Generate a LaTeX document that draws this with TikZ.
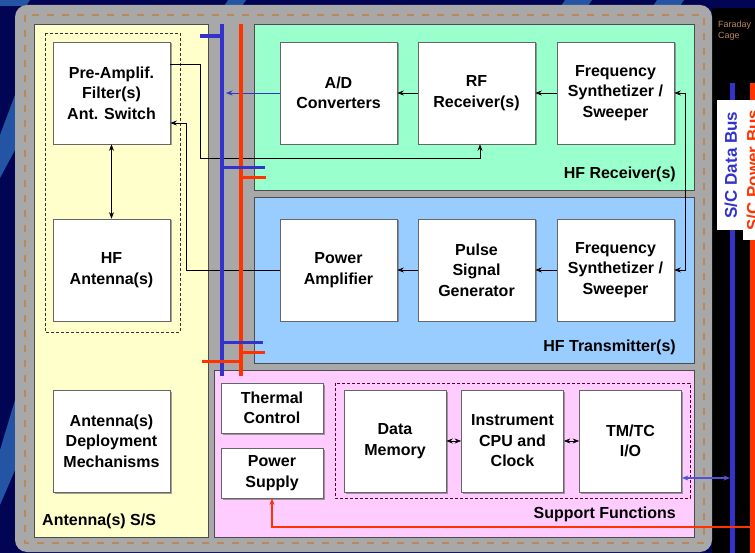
\documentclass[tikz,border=0pt]{standalone}
\usepackage{fontspec}
\setmainfont{Liberation Sans}
\usetikzlibrary{shadows,arrows.meta,calc}

\definecolor{navybg}{RGB}{2,4,84}
\definecolor{stripe}{RGB}{36,84,164}
\definecolor{cagegray}{RGB}{168,168,168}
\definecolor{cagedash}{RGB}{186,136,92}
\definecolor{antyellow}{RGB}{255,255,204}
\definecolor{rxgreen}{RGB}{153,255,204}
\definecolor{txblue}{RGB}{153,204,255}
\definecolor{suppink}{RGB}{255,204,255}
\definecolor{busblue}{RGB}{51,51,204}
\definecolor{busred}{RGB}{255,51,0}

\tikzset{
  blk/.style={draw=black!60, fill=white, line width=0.7pt, align=center,
    font=\fontsize{16}{20.5}\selectfont\bfseries, inner sep=0pt,
    drop shadow={shadow xshift=1.5pt, shadow yshift=-1.5pt, opacity=0.6, fill=black!60}},
  bigbox/.style={blk, minimum width=117pt, minimum height=102pt},
  sqbox/.style={blk, minimum width=102pt, minimum height=102pt},
  smallbox/.style={blk, minimum width=102pt, minimum height=50pt},
  panel/.style={draw=black!70, line width=0.6pt},
  conn/.style={draw=black, line width=0.7pt},
  panellabel/.style={font=\fontsize{16}{20}\selectfont\bfseries, inner sep=0pt},
  buslabel/.style={rotate=90, fill=white, inner sep=0pt,
    font=\fontsize{17}{20}\selectfont\bfseries},
}

\begin{document}
\begin{tikzpicture}[x=1pt, y=-1pt, >={Stealth[length=6.5pt,width=5pt]}]
\clip (0,0) rectangle (755,553);
\useasboundingbox (0,0) rectangle (755,553);

% backdrop
\fill[navybg] (0,0) rectangle (755,553);
\fill[stripe] (0,135) -- (15,95) -- (15,150) -- (0,178) -- cycle;
\fill[stripe] (0,450) -- (15,400) -- (15,470) -- (0,505) -- cycle;
\fill[stripe] (0,0) -- (30,0) -- (26,6) -- (0,6) -- cycle;
\fill[stripe] (228,0) -- (246,0) -- (242,6) -- (224,6) -- cycle;
\fill[stripe] (565,0) -- (592,0) -- (588,6) -- (561,6) -- cycle;
\fill[stripe] (657,0) -- (684,0) -- (680,6) -- (653,6) -- cycle;
\fill[black] (712,8) rectangle (755,553);

% Faraday cage
\fill[cagegray, rounded corners=12pt] (15,5) rectangle (712,552);
\draw[cagedash, line width=2.2pt, dash pattern=on 7pt off 8pt] (25,15) rectangle (704,543);
\node[anchor=north west, align=left, inner sep=0pt, text=cagedash,
      font=\fontsize{9}{10.5}\selectfont] (cage) at (718,21) {Faraday\\Cage};

% subsystem panels
\draw[panel, fill=antyellow] (34,24) rectangle (208,537);
\draw[panel, fill=rxgreen] (254,24) rectangle (694,190);
\draw[panel, fill=txblue] (254,197) rectangle (694,363);
\draw[panel, fill=suppink] (214,370) rectangle (694,537);

% grouping frames
\draw[black!80, line width=0.5pt, dash pattern=on 3pt off 2pt] (45,33) rectangle (180,332);
\draw[black!50!purple, line width=0.5pt, dash pattern=on 3pt off 2pt] (335,383) rectangle (690,498);

% panel titles
\node[panellabel, anchor=west] (antss) at (42,521) {Antenna(s) S/S};
\node[panellabel, anchor=east] (rxss) at (676,174) {HF Receiver(s)};
\node[panellabel, anchor=east] (txss) at (676,347) {HF Transmitter(s)};
\node[panellabel, anchor=east] (supss) at (676,514) {Support Functions};

% antenna subsystem
\node[bigbox] (preamp) at (111.5,93) {Pre-Amplif.\\Filter(s)\\Ant. Switch};
\node[bigbox] (hfant) at (111.5,270) {HF\\Antenna(s)};
\node[bigbox] (deploy) at (111.5,441) {Antenna(s)\\Deployment\\Mechanisms};

% receiver chain
\node[bigbox] (adc) at (338.5,93) {A/D\\Converters};
\node[bigbox] (rfrx) at (476.5,93) {RF\\Receiver(s)};
\node[bigbox] (fsr) at (615.5,93) {Frequency\\Synthetizer /\\Sweeper};

% transmitter chain
\node[bigbox] (pa) at (338.5,270) {Power\\Amplifier};
\node[bigbox] (psg) at (476.5,270) {Pulse\\Signal\\Generator};
\node[bigbox] (fst) at (615.5,270) {Frequency\\Synthetizer /\\Sweeper};

% support functions
\node[smallbox] (thermal) at (272,408) {Thermal\\Control};
\node[smallbox] (psu) at (272,473) {Power\\Supply};
\node[sqbox] (dmem) at (395,441) {Data\\Memory};
\node[sqbox] (cpu) at (512.5,441) {Instrument\\CPU and\\Clock};
\node[sqbox] (tmtc) at (630.5,441) {TM/TC\\I/O};

% routing points
\coordinate (rxroute) at (200,158);
\coordinate (txroute) at (186,123);
\coordinate (adcbus) at (226,93);

% signal connectors
\draw[conn,<->] (preamp) -- (hfant);
\draw[conn,->] ([yshift=29pt]preamp.east) -| (rxroute) -| ([xshift=3.5pt]rfrx.south);
\draw[conn,->] (pa.west) -| (txroute) -- ([yshift=-30pt]preamp.east);
\draw[conn,->] (fsr) -- (rfrx);
\draw[conn,->] (rfrx) -- (adc);
\draw[busblue, line width=0.7pt, ->] (adc.west) -- (adcbus);
\draw[conn,<->] (fsr.east) -- ++(11,0) |- (fst.east);
\draw[conn,->] (fst) -- (psg);
\draw[conn,->] (psg) -- (pa);
\draw[conn,<->] (dmem) -- (cpu);
\draw[conn,<->] (cpu) -- (tmtc);

% instrument data and power buses
\coordinate (dbtop) at (222,24);
\coordinate (dbbot) at (222,376);
\coordinate (pbtop) at (241,24);
\coordinate (pbbot) at (241,376);
\draw[busblue, line width=4pt] (dbtop) -- (dbbot);
\draw[busred, line width=4pt] (pbtop) -- (pbbot);
\draw[busblue, line width=3.5pt] (200,36) -- (222,36);
\draw[busblue, line width=3pt] (222,168) -- (265,168);
\draw[busred, line width=3pt] (241,178) -- (266,178);
\draw[busblue, line width=3pt] (222,342) -- (263,342);
\draw[busred, line width=3pt] (241,352) -- (265,352);
\draw[busred, line width=3pt] (202,361) -- (241,361);

% spacecraft buses
\coordinate (scdbtop) at (732,83);
\coordinate (scdbbot) at (732,553);
\coordinate (scpbtop) at (752,83);
\coordinate (scpbbot) at (752,553);
\draw[busblue, line width=5pt] (scdbtop) -- (scdbbot);
\draw[busred, line width=5pt] (scpbtop) -- (scpbbot);
\node[buslabel, text=busblue, minimum width=130pt, minimum height=28pt] (scdb) at (731,165) {S/C Data Bus};
\node[buslabel, text=busred, minimum width=140pt, minimum height=20pt] (scpb) at (753,170) {S/C Power Bus};

% links to the spacecraft buses
\coordinate (scdbtap) at (730,478);
\coordinate (scpbtap) at (752,527);
\draw[<->, busblue!85!white, line width=1.5pt] (tmtc.east |- scdbtap) -- (scdbtap);
\draw[->, busred, line width=1.8pt] (scpbtap) -| (psu.south);
\end{tikzpicture}
\end{document}
